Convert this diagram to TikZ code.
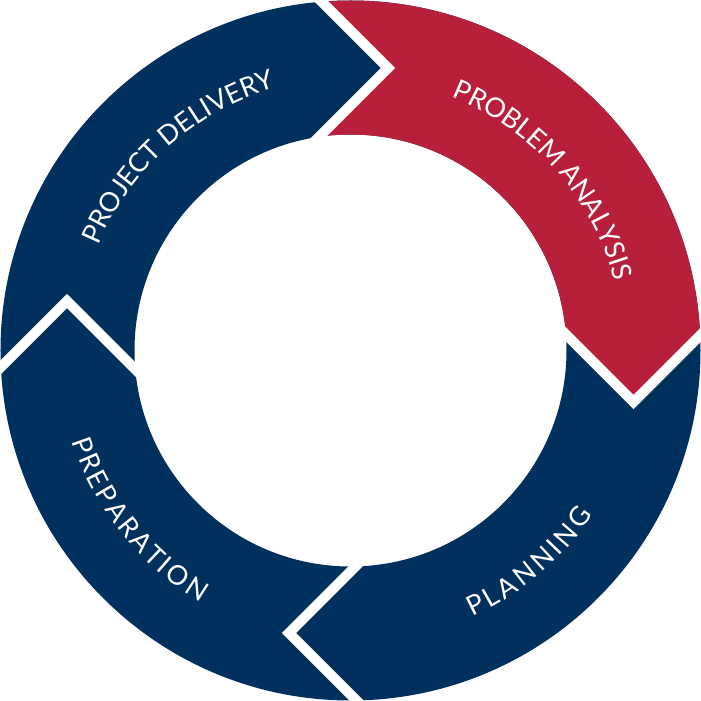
\documentclass[tikz,border=0pt]{standalone}
\usepackage{fontspec}
\newfontfamily\lblfont{Lato}
\newcommand\lbl{\lblfont\fontsize{27}{31}\selectfont}
\usetikzlibrary{decorations.text}
\definecolor{navy}{RGB}{0,49,94}
\definecolor{crimson}{RGB}{183,31,59}
\tikzset{
  ring/.style={even odd rule},
  gap/.style={draw=white, line width=10pt, miter limit=10},
  ringlabel/.style={decorate, decoration={text effects along path, text={#1},
      text effects/.cd, text along path, fit text to path,
      characters={text=white, font=\lbl}}}
}
\begin{document}
\begin{tikzpicture}[x=1pt,y=1pt]
\useasboundingbox (-350.5,-350.5) rectangle (350.5,350.5);
\def\Ro{350}
\def\Ri{216}
% full ring in navy
\fill[navy, ring] (0,0) circle[radius=\Ro] (0,0) circle[radius=\Ri];
% crimson quarter (problem analysis)
\begin{scope}
  \clip (-62.5,382.5) -- (37.5,282.5) -- (-162.5,82.5) -- (0,0) -- (133,98.5)
        -- (283,-51.5) -- (400,65.5) -- (400,400) -- (-62.5,400) -- cycle;
  \fill[crimson, ring] (0,0) circle[radius=\Ro] (0,0) circle[radius=\Ri];
\end{scope}
% white chevron gaps between the arrows
\begin{scope}
  \clip (0,0) circle[radius=\Ro+2];
  \path[gap] (-62.5,382.5) -- (37.5,282.5) -- (-62.5,182.5);
  \path[gap] (183,48.5) -- (283,-51.5) -- (383,48.5);
  \path[gap] (38.5,-182.5) -- (-61.5,-282.5) -- (38.5,-382.5);
  \path[gap] (-383.5,-50.5) -- (-283.5,49.5) -- (-183.5,-50.5);
\end{scope}
% labels along the ring
\path[ringlabel={PROJECT DELIVERY}] (157.4:273) arc[start angle=157.4, end angle=105.9, radius=273];
\path[ringlabel={PROBLEM ANALYSIS}] (68.3:273) arc[start angle=68.3, end angle=14.6, radius=273];
\path[ringlabel={PLANNING}] (-65.4:293) arc[start angle=-65.4, end angle=-34, radius=293];
\path[ringlabel={PREPARATION}] (-162:293) arc[start angle=-162, end angle=-120.8, radius=293];
\end{tikzpicture}
\end{document}
